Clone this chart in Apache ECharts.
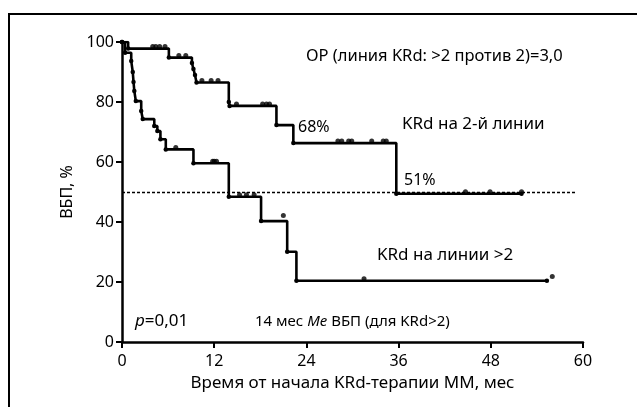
<!DOCTYPE html>
<html>
<head>
<meta charset="utf-8">
<script src="https://cdn.jsdelivr.net/npm/echarts@6/dist/echarts.min.js"></script>
<style>
  html, body { margin: 0; padding: 0; background: #fff; }
  #chart { width: 637px; height: 407px; }
</style>
</head>
<body>
<div id="chart"></div>
<script>
  // KRd на 2-й линии: время события (мес) и ВБП (%) после него
  var line2Times = [0, 0.8, 6.1, 9.1, 9.3, 9.5, 9.7, 13.9, 14.0, 20.1, 22.3, 35.7, 52];
  var line2Surv  = [100, 97.8, 94.8, 93, 91, 89, 86.5, 80, 78.7, 72.3, 66.3, 49.4, 49.4];
  // цензурированные наблюдения
  var line2CensT = [4.0, 4.4, 4.9, 5.6, 7.4, 8.3, 10.4, 11.6, 12.5, 14.9, 18.3, 18.8, 19.2,
                    28.1, 28.6, 29.5, 29.9, 32.5, 34.0, 34.4, 44.7, 47.9, 52];
  var line2CensS = [97.8, 97.8, 97.8, 97.8, 94.8, 94.8, 86.5, 86.5, 86.5, 78.7, 78.7, 78.7, 78.7,
                    66.3, 66.3, 66.3, 66.3, 66.3, 66.3, 66.3, 49.4, 49.4, 49.4];

  // KRd на линии >2
  var lineGt2Times = [0, 0.4, 1.2, 1.4, 1.5, 1.6, 1.8, 2.5, 2.7, 4.2, 4.6, 5.0, 5.7, 9.3, 13.9, 18.1, 21.5, 22.7, 55.3];
  var lineGt2Surv  = [100, 96.4, 93.7, 90, 86.7, 83.7, 80.3, 77, 74.3, 72, 70.3, 67.6, 64.2, 59.6, 48.4, 40.3, 30.1, 20.4, 20.4];
  var lineGt2CensT = [7.0, 11.8, 12.0, 12.3, 15.3, 16.2, 17.2, 21.0, 31.5, 56];
  var lineGt2CensS = [64.2, 59.6, 59.6, 59.6, 48.4, 48.4, 48.4, 41.5, 20.4, 21.2];

  var xTicks = [0, 12, 24, 36, 48, 60];
  var yTicks = [0, 20, 40, 60, 80, 100];
  var medianLevel = 50;

  function pairs(a, b) {
    return a.map(function (v, i) { return [v, b[i]]; });
  }

  var font = '"Noto Sans", sans-serif';
  var chart = echarts.init(document.getElementById('chart'), null, {renderer: 'canvas'});

  var option = {
    backgroundColor: '#fff',
    animation: false,
    textStyle: {fontFamily: font, color: '#000'},
    grid: {left: 122, right: 54, top: 42, bottom: 65},
    xAxis: {
      type: 'value',
      min: xTicks[0], max: xTicks[xTicks.length - 1], interval: 12,
      name: 'Время от начала KRd-терапии ММ, мес',
      nameLocation: 'middle', nameGap: 33,
      nameTextStyle: {fontSize: 17, color: '#000', fontFamily: font},
      axisLine: {lineStyle: {color: '#000', width: 2.5}},
      axisTick: {length: 6, lineStyle: {color: '#000', width: 2}},
      axisLabel: {fontSize: 16, color: '#000', margin: 11, fontFamily: font},
      splitLine: {show: false}
    },
    yAxis: {
      type: 'value',
      min: yTicks[0], max: yTicks[yTicks.length - 1], interval: 20,
      name: 'ВБП, %',
      nameLocation: 'middle', nameGap: 43, nameRotate: 90,
      nameTextStyle: {fontSize: 16, color: '#000', fontFamily: font},
      axisLine: {show: true, lineStyle: {color: '#000', width: 2.5}},
      axisTick: {show: true, length: 6, lineStyle: {color: '#000', width: 2}},
      axisLabel: {fontSize: 16, color: '#000', margin: 8, fontFamily: font},
      splitLine: {show: false}
    },
    series: [
      {
        type: 'line',
        step: 'end',
        data: pairs(line2Times, line2Surv),
        showSymbol: true, symbol: 'circle', symbolSize: 4.5,
        itemStyle: {color: '#000'},
        lineStyle: {color: '#000', width: 2.6},
        markLine: {
          silent: true, symbol: ['none', 'none'], label: {show: false},
          lineStyle: {color: '#000', type: [3, 2], width: 1.4},
          data: [[{coord: [0, medianLevel]}, {coord: [59, medianLevel]}]]
        },
        z: 3
      },
      {
        type: 'line',
        step: 'end',
        data: pairs(lineGt2Times, lineGt2Surv),
        showSymbol: true, symbol: 'circle', symbolSize: 4.5,
        itemStyle: {color: '#000'},
        lineStyle: {color: '#000', width: 2.6},
        z: 3
      },
      {
        type: 'scatter',
        data: pairs(line2CensT, line2CensS).concat(pairs(lineGt2CensT, lineGt2CensS)),
        symbol: 'circle', symbolSize: 5, symbolOffset: [0, -2],
        itemStyle: {color: '#000'},
        z: 4
      }
    ],
    graphic: [
      {type: 'rect', shape: {x: 9, y: 14, width: 700, height: 500},
       style: {fill: 'none', stroke: '#000', lineWidth: 2}, silent: true},
      {type: 'text', left: 306, top: 48,
       style: {text: 'ОР (линия KRd: >2 против 2)=3,0', font: '16.5px ' + font, fill: '#000'}},
      {type: 'text', left: 298, top: 119,
       style: {text: '68%', font: '16px ' + font, fill: '#000'}},
      {type: 'text', left: 402, top: 116,
       style: {text: 'KRd на 2-й линии', font: '17px ' + font, fill: '#000'}},
      {type: 'text', left: 404, top: 172,
       style: {text: '51%', font: '16px ' + font, fill: '#000'}},
      {type: 'text', left: 377, top: 247,
       style: {text: 'KRd на линии >2', font: '17px ' + font, fill: '#000'}},
      {type: 'text', left: 135, top: 313,
       style: {
         text: '{i|p}{n|=0,01}',
         rich: {
           i: {font: 'italic 17px ' + font, fill: '#000'},
           n: {font: '17px ' + font, fill: '#000'}
         }
       }},
      {type: 'text', left: 255, top: 314,
       style: {
         text: '{n|14 мес }{i|Me}{n| ВБП (для KRd>2)}',
         rich: {
           i: {font: 'italic 15px ' + font, fill: '#000'},
           n: {font: '15px ' + font, fill: '#000'}
         }
       }}
    ]
  };

  chart.setOption(option);
</script>
</body>
</html>
